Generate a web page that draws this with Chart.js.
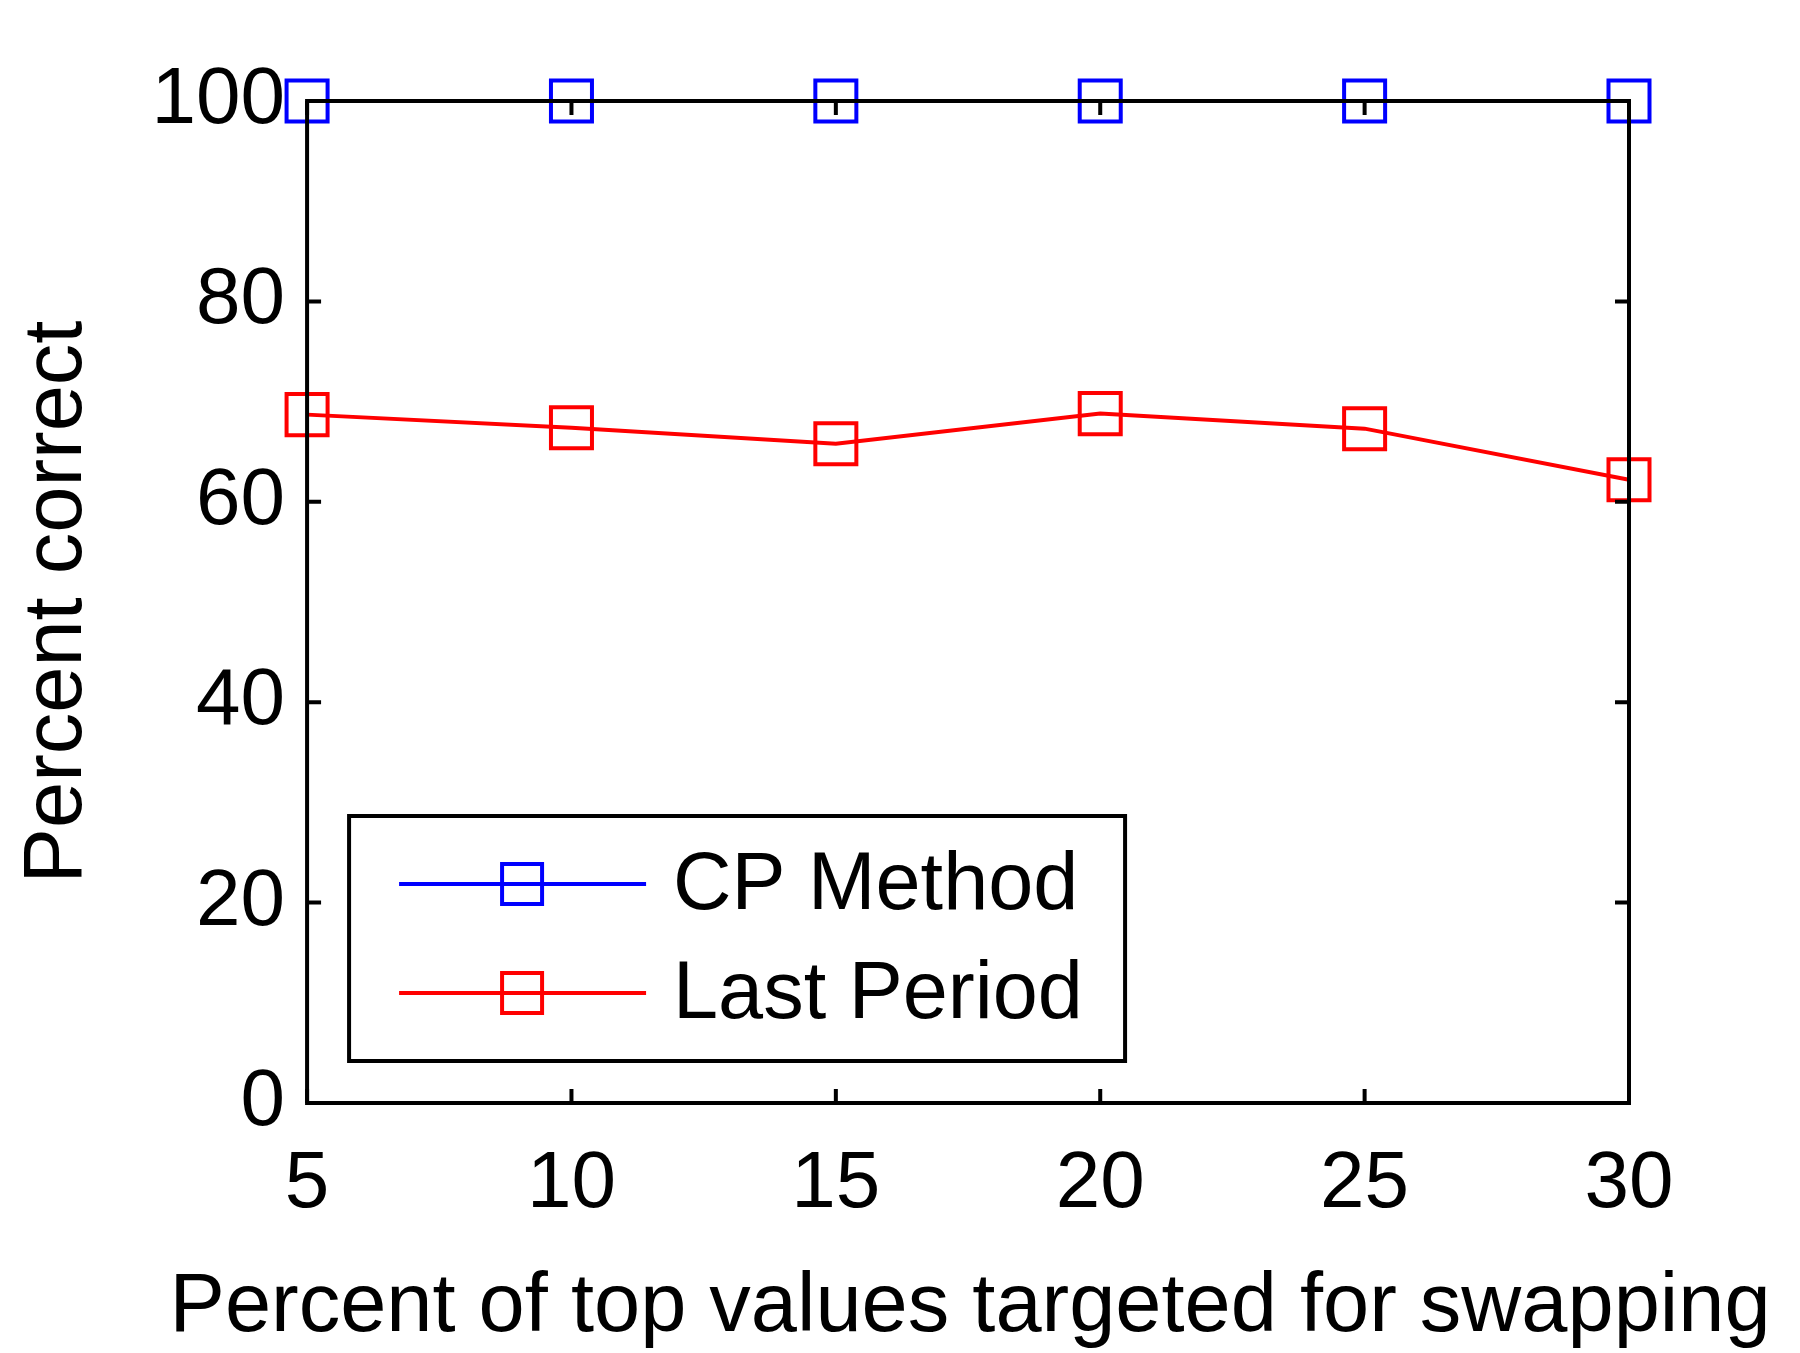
<!DOCTYPE html>
<html>
<head>
<meta charset="utf-8">
<script src="https://cdn.jsdelivr.net/npm/chart.js@4.4.1/dist/chart.umd.min.js"></script>
<style>
    html, body { margin: 0; padding: 0; background: #fff; }
    #wrap { width: 1800px; height: 1353px; }
</style>
</head>
<body>
<div id="wrap"><canvas id="chart"></canvas></div>
<script>
    // ─── Data ───
    const swapPercent = [5, 10, 15, 20, 25, 30];
    const cpMethod = [100, 100, 100, 100, 100, 100];
    const lastPeriod = [68.7, 67.4, 65.8, 68.8, 67.3, 62.2];
    const yTicks = [0, 20, 40, 60, 80, 100];
    const xTitle = 'Percent of top values targeted for swapping';

    const FONT = '"Liberation Sans", Arial, Helvetica, sans-serif';
    const LW = 4;

    // Frame with inward ticks, drawn on top of the lines (MATLAB style)
    const framePlugin = {
        id: 'frame',
        afterDatasetsDraw(chart) {
            const { ctx, chartArea: a, scales } = chart;
            ctx.save();
            ctx.strokeStyle = '#000';
            ctx.lineWidth = LW;
            ctx.strokeRect(a.left, a.top, a.right - a.left, a.bottom - a.top);
            const len = 14;
            ctx.beginPath();
            scales.x.ticks.forEach(t => {
                const px = scales.x.getPixelForValue(t.value);
                ctx.moveTo(px, a.bottom); ctx.lineTo(px, a.bottom - len);
                ctx.moveTo(px, a.top); ctx.lineTo(px, a.top + len);
            });
            scales.y.ticks.forEach(t => {
                const py = scales.y.getPixelForValue(t.value);
                ctx.moveTo(a.left, py); ctx.lineTo(a.left + len, py);
                ctx.moveTo(a.right, py); ctx.lineTo(a.right - len, py);
            });
            ctx.stroke();

            // x axis title: wider than the plot, so drawn here without maxWidth
            ctx.fillStyle = '#000';
            ctx.font = '83px ' + FONT;
            ctx.textAlign = 'center';
            ctx.textBaseline = 'middle';
            ctx.fillText(xTitle, (a.left + a.right) / 2 + 2, 1308);
            ctx.restore();
        }
    };

    // Boxed legend at lower left, line + square marker like the original
    const boxLegend = {
        id: 'boxLegend',
        afterDraw(chart) {
            const { ctx, chartArea: a } = chart;
            const x0 = a.left + 42, w = 776, h = 245;
            const y0 = a.bottom - 42 - h;
            ctx.save();
            ctx.fillStyle = '#fff';
            ctx.fillRect(x0, y0, w, h);
            ctx.strokeStyle = '#000';
            ctx.lineWidth = LW;
            ctx.strokeRect(x0, y0, w, h);
            const rows = [y0 + 68, y0 + 177];
            chart.data.datasets.forEach((ds, i) => {
                const y = rows[i];
                ctx.strokeStyle = ds.borderColor;
                ctx.lineWidth = LW;
                ctx.beginPath();
                ctx.moveTo(x0 + 50, y); ctx.lineTo(x0 + 297, y);
                ctx.stroke();
                ctx.strokeRect(x0 + 173 - 20, y - 20, 40, 40);
                ctx.fillStyle = '#000';
                ctx.font = '81px ' + FONT;
                ctx.textBaseline = 'middle';
                ctx.fillText(ds.label, x0 + 324, y + 3);
            });
            ctx.restore();
        }
    };

    new Chart(document.getElementById('chart'), {
        type: 'line',
        data: {
            datasets: [{
                label: 'CP Method',
                data: swapPercent.map((x, i) => ({ x: x, y: cpMethod[i] })),
                borderColor: '#0000ff',
                backgroundColor: 'rgba(0,0,0,0)',
                borderWidth: LW,
                pointStyle: 'rect',
                pointRadius: 29,
                pointBorderWidth: LW,
                pointBorderColor: '#0000ff',
                pointBackgroundColor: 'rgba(0,0,0,0)',
                clip: false,
            }, {
                label: 'Last Period',
                data: swapPercent.map((x, i) => ({ x: x, y: lastPeriod[i] })),
                borderColor: '#ff0000',
                backgroundColor: 'rgba(0,0,0,0)',
                borderWidth: LW,
                pointStyle: 'rect',
                pointRadius: 29,
                pointBorderWidth: LW,
                pointBorderColor: '#ff0000',
                pointBackgroundColor: 'rgba(0,0,0,0)',
                clip: false,
            }]
        },
        options: {
            responsive: true,
            maintainAspectRatio: false,
            animation: false,
            devicePixelRatio: 1,
            layout: { padding: { left: 8, right: 171, top: 101, bottom: 86 } },
            plugins: {
                legend: { display: false },
                tooltip: { enabled: false },
            },
            scales: {
                x: {
                    type: 'linear',
                    min: 5, max: 30,
                    grid: { display: false, drawTicks: false },
                    border: { display: false },
                    ticks: {
                        stepSize: 5,
                        color: '#000',
                        padding: 34,
                        font: { family: FONT, size: 80 },
                        maxRotation: 0,
                    },
                },
                y: {
                    min: 0, max: 100,
                    afterBuildTicks(scale) { scale.ticks = yTicks.map(v => ({ value: v })); },
                    grid: { display: false, drawTicks: false },
                    border: { display: false },
                    ticks: {
                        color: '#000',
                        padding: 22,
                        font: { family: FONT, size: 80 },
                    },
                    title: {
                        display: true,
                        text: 'Percent correct',
                        color: '#000',
                        font: { family: FONT, size: 83 },
                        padding: { top: 0, bottom: 22 },
                    },
                }
            }
        },
        plugins: [framePlugin, boxLegend]
    });
</script>
</body>
</html>
